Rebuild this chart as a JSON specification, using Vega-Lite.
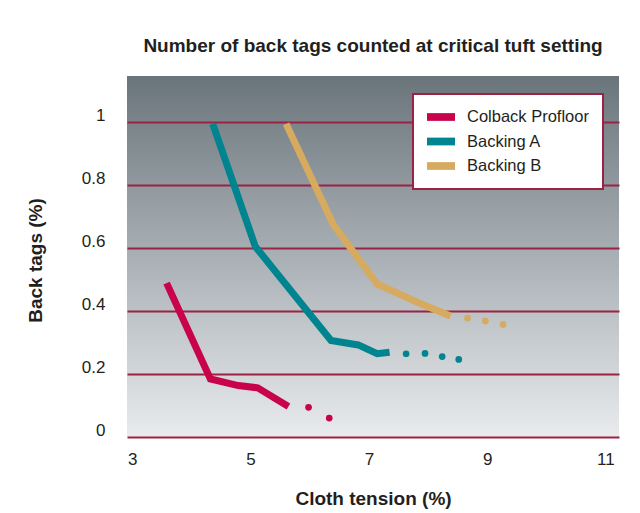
{
  "$schema": "https://vega.github.io/schema/vega-lite/v6.json",
  "width": 492,
  "height": 361,
  "autosize": {"type": "none"},
  "padding": {"left": 127, "top": 76, "right": 21, "bottom": 76},
  "background": "white",
  "config": {
    "view": {
      "stroke": null,
      "fill": {"gradient": "linear", "x1": 0, "y1": 0, "x2": 0, "y2": 1,
        "stops": [{"offset": 0, "color": "#6a757b"}, {"offset": 0.5, "color": "#a9b0b5"}, {"offset": 1, "color": "#e9ebed"}]}
    },
    "font": "Liberation Sans",
    "legend": {
      "orient": "none", "legendX": 286, "legendY": 18, "title": null,
      "symbolType": "M-1.556,-0.43L1.556,-0.43L1.556,0.43L-1.556,0.43Z",
      "symbolSize": 324, "symbolStrokeWidth": 0, "symbolOffset": 5, "symbolOpacity": 1,
      "labelOffset": 17, "padding": 14, "rowPadding": 6.5,
      "fillColor": "white", "strokeColor": "#9b2243",
      "labelFont": "Liberation Sans", "labelFontSize": 16.5, "labelColor": "#231f20"
    }
  },
  "title": {
    "text": "Number of back tags counted at critical tuft setting",
    "anchor": "middle",
    "frame": "group",
    "font": "Liberation Sans",
    "fontSize": 19,
    "fontWeight": "bold",
    "color": "#231f20",
    "baseline": "alphabetic",
    "offset": 5
  },
  "data": {
    "values": [
      {"series": "Colback Profloor", "kind": "line", "tension": 3.58, "tags": 0.488},
      {"series": "Colback Profloor", "kind": "line", "tension": 4.32, "tags": 0.184},
      {"series": "Colback Profloor", "kind": "line", "tension": 4.79, "tags": 0.163},
      {"series": "Colback Profloor", "kind": "line", "tension": 5.12, "tags": 0.156},
      {"series": "Colback Profloor", "kind": "line", "tension": 5.64, "tags": 0.097},
      {"series": "Colback Profloor", "kind": "dot", "tension": 5.98, "tags": 0.094},
      {"series": "Colback Profloor", "kind": "dot", "tension": 6.33, "tags": 0.06},
      {"series": "Backing A", "kind": "line", "tension": 4.36, "tags": 0.993},
      {"series": "Backing A", "kind": "line", "tension": 5.08, "tags": 0.604},
      {"series": "Backing A", "kind": "line", "tension": 6.36, "tags": 0.306},
      {"series": "Backing A", "kind": "line", "tension": 6.82, "tags": 0.292},
      {"series": "Backing A", "kind": "line", "tension": 7.14, "tags": 0.264},
      {"series": "Backing A", "kind": "line", "tension": 7.35, "tags": 0.269},
      {"series": "Backing A", "kind": "dot", "tension": 7.63, "tags": 0.264},
      {"series": "Backing A", "kind": "dot", "tension": 7.95, "tags": 0.265},
      {"series": "Backing A", "kind": "dot", "tension": 8.24, "tags": 0.255},
      {"series": "Backing A", "kind": "dot", "tension": 8.52, "tags": 0.246},
      {"series": "Backing B", "kind": "line", "tension": 5.6, "tags": 0.993},
      {"series": "Backing B", "kind": "line", "tension": 6.4, "tags": 0.673},
      {"series": "Backing B", "kind": "line", "tension": 7.14, "tags": 0.485},
      {"series": "Backing B", "kind": "line", "tension": 7.81, "tags": 0.428},
      {"series": "Backing B", "kind": "line", "tension": 8.38, "tags": 0.384},
      {"series": "Backing B", "kind": "dot", "tension": 8.67, "tags": 0.377},
      {"series": "Backing B", "kind": "dot", "tension": 8.97, "tags": 0.368},
      {"series": "Backing B", "kind": "dot", "tension": 9.27, "tags": 0.357}
    ]
  },
  "encoding": {
    "x": {
      "field": "tension", "type": "quantitative",
      "scale": {"domain": [2.91, 11.23], "nice": false, "zero": false},
      "axis": {
        "values": [3, 5, 7, 9, 11], "grid": false, "domain": false, "ticks": false,
        "labelFont": "Liberation Sans", "labelFontSize": 17, "labelColor": "#231f20",
        "labelBaseline": "middle", "labelPadding": 22,
        "title": "Cloth tension (%)", "titleFont": "Liberation Sans", "titleFontSize": 19,
        "titleFontWeight": "bold", "titleColor": "#231f20", "titleBaseline": "alphabetic", "titleY": 67
      }
    },
    "y": {
      "field": "tags", "type": "quantitative",
      "scale": {"domain": [0, 1.1448], "nice": false, "zero": true},
      "axis": {
        "values": [0, 0.2, 0.4, 0.6, 0.8, 1], "format": "~g",
        "grid": true, "gridColor": "#9b2243", "gridWidth": 2, "gridOpacity": 1,
        "domain": false, "ticks": false,
        "labelFont": "Liberation Sans", "labelFontSize": 17, "labelColor": "#231f20",
        "labelPadding": 22, "labelOffset": -6.5,
        "title": "Back tags (%)", "titleFont": "Liberation Sans", "titleFontSize": 19,
        "titleFontWeight": "bold", "titleColor": "#231f20", "titleBaseline": "alphabetic",
        "titleX": -86, "titleY": 184, "titleAngle": -90
      }
    },
    "color": {
      "field": "series", "type": "nominal",
      "scale": {"domain": ["Colback Profloor", "Backing A", "Backing B"], "range": ["#c8034b", "#00848f", "#d6aa5f"]},
      "legend": {
        "encode": {
          "legend": {"update": {"strokeWidth": {"value": 2}}},
          "symbols": {"update": {"fill": {"scale": "color", "field": "value"}, "stroke": {"value": "transparent"}, "opacity": {"value": 1}}}
        }
      }
    }
  },
  "layer": [
    {
      "transform": [{"filter": "datum.kind === 'line'"}],
      "mark": {"type": "line", "strokeWidth": 7, "strokeCap": "butt", "strokeJoin": "miter"}
    },
    {
      "transform": [{"filter": "datum.kind === 'dot'"}],
      "mark": {"type": "point", "filled": true, "size": 45, "opacity": 1, "shape": "circle"}
    }
  ]
}
